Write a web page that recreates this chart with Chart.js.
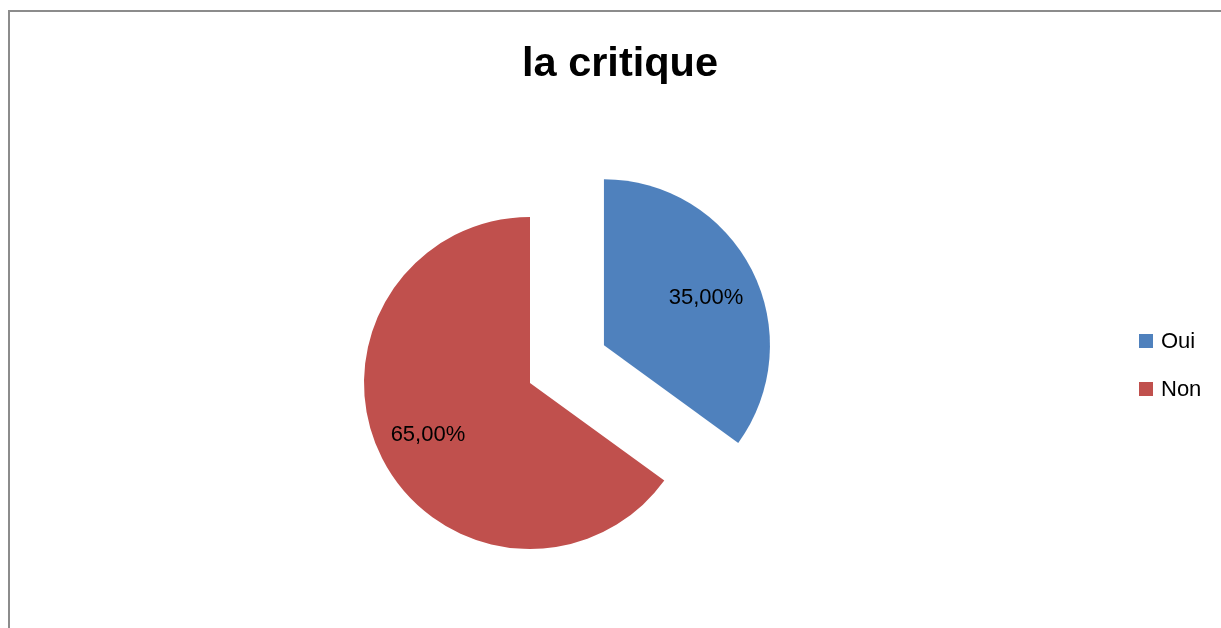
<!DOCTYPE html>
<html>
<head>
<meta charset="utf-8">
<script src="https://cdn.jsdelivr.net/npm/chart.js@4/dist/chart.umd.min.js"></script>
<style>
  html, body { margin: 0; padding: 0; background: #fff; }
  #wrap { width: 1221px; height: 628px; position: relative; }
</style>
</head>
<body>
<div id="wrap"><canvas id="pieChart"></canvas></div>
<script>
const labels = ["Oui", "Non"];
const values = [35, 65];
const colors = ["#4f81bd", "#c0504d"];
const chartTitle = "la critique";

const FONT = "'Liberation Sans', Arial, sans-serif";

// Chart.js grows an offset arc's radius a little; undo that so the exploded slice keeps the same size
const keepRadiusPlugin = {
  id: "keepRadius",
  afterDatasetsUpdate(chart) {
    chart.getDatasetMeta(0).data.forEach((arc) => {
      const off = (arc.options.offset || 0) / 4;
      if (!off) return;
      const fix = 1 - Math.sin(Math.min(Math.PI, arc.circumference));
      const grow = off * fix;
      const R = arc.outerRadius;
      arc.outerRadius = R - grow;
      const angleOff = grow / (2 * Math.PI * R);
      arc.startAngle -= angleOff;
      arc.endAngle += angleOff;
    });
  },
};

// frame, title, slice labels and legend drawn by hand
const decorPlugin = {
  id: "decor",
  beforeDraw(chart) {
    const { ctx, width, height } = chart;
    ctx.save();
    ctx.fillStyle = "#fff";
    ctx.fillRect(0, 0, width, height);
    ctx.fillStyle = "#8c8c8c";
    ctx.fillRect(8, 10, width - 8, 2);
    ctx.fillRect(8, 10, 2, height - 10);
    ctx.restore();
  },
  afterDatasetsDraw(chart) {
    const { ctx } = chart;
    const meta = chart.getDatasetMeta(0);
    const total = values.reduce((a, b) => a + b, 0);

    ctx.save();
    ctx.fillStyle = "#000";
    ctx.textAlign = "center";
    ctx.textBaseline = "alphabetic";
    ctx.font = "bold 41.5px " + FONT;
    ctx.fillText(chartTitle, 620, 76);

    ctx.font = "22px " + FONT;
    ctx.textBaseline = "middle";
    meta.data.forEach((arc, i) => {
      const mid = (arc.startAngle + arc.endAngle) / 2;
      const off = (arc.options.offset || 0) / 4;
      const r = 166 * 0.69;
      const x = arc.x + Math.cos(mid) * (off + r);
      const y = arc.y + Math.sin(mid) * (off + r) + (i === 0 ? 5 : 0);
      const pct = (values[i] / total * 100).toFixed(2).replace(".", ",") + "%";
      ctx.fillText(pct, x, y);
    });

    // legend
    ctx.textAlign = "left";
    labels.forEach((lab, i) => {
      const y = 341 + i * 48;
      ctx.fillStyle = colors[i];
      ctx.fillRect(1139, y - 7, 14, 14);
      ctx.fillStyle = "#000";
      ctx.fillText(lab, 1161, y + 1);
    });
    ctx.restore();
  },
};

new Chart(document.getElementById("pieChart"), {
  type: "pie",
  data: {
    labels: labels,
    datasets: [
      {
        data: values,
        backgroundColor: colors,
        borderWidth: 0,
        offset: [332, 0],
      },
    ],
  },
  options: {
    responsive: true,
    maintainAspectRatio: false,
    animation: false,
    radius: 166,
    layout: {
      padding: { left: 330, right: 491, top: 183, bottom: 45 },
    },
    plugins: {
      legend: { display: false },
      title: { display: false },
      tooltip: { enabled: false },
    },
  },
  plugins: [keepRadiusPlugin, decorPlugin],
});
</script>
</body>
</html>
